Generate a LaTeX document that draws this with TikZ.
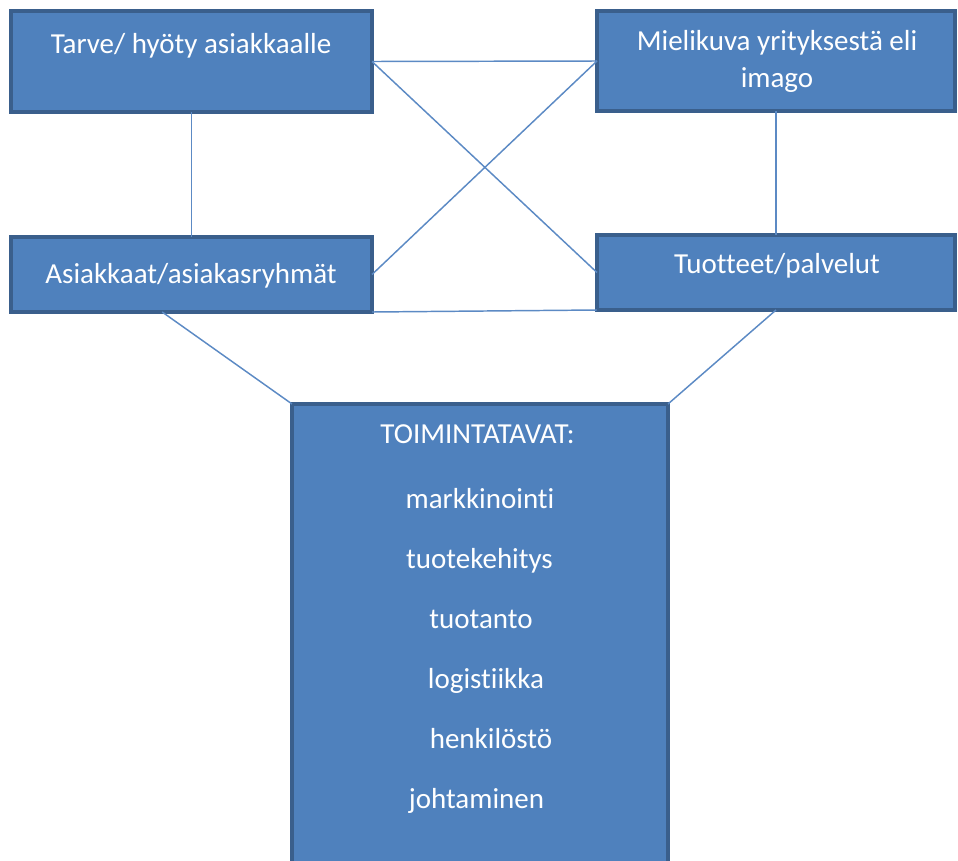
\documentclass[tikz,border=0pt]{standalone}
\usepackage{fontspec}
\setmainfont[Ligatures=NoCommon]{Carlito}
\definecolor{clFill}{HTML}{4F81BD}
\definecolor{clEdge}{HTML}{3A5F8C}
\definecolor{clLink}{HTML}{5C8AC4}
\usetikzlibrary{calc}

\begin{document}
\begin{tikzpicture}[x=0.75pt,y=-0.75pt,
  box/.style={draw=clEdge,fill=clFill,line width=3pt,rectangle,inner sep=0pt,outer sep=0pt},
  txt/.style={text=white,font=\fontsize{21.75}{27.75}\selectfont,align=center,inner sep=0pt},
  link/.style={draw=clLink,line width=1.1pt}]
  \useasboundingbox (0,0) rectangle (958,861);
  \clip (0,0) rectangle (958,861);
  % boxes
  \node[box,minimum width=270.75pt,minimum height=75.75pt] (tarve) at (191.5,61.5){};
  \node[box,minimum width=268.5pt,minimum height=75pt] (miel) at (776,61){};
  \node[box,minimum width=270.75pt,minimum height=56.25pt] (asiak) at (191.5,274.5){};
  \node[box,minimum width=268.5pt,minimum height=56.25pt] (tuot) at (776,272.5){};
  \node[box,minimum width=282pt,minimum height=357pt] (toim) at (480,642){};
  % connectors
  \draw[link] (tarve.south) -- (asiak.north);
  \draw[link] (miel.south) -- (tuot.north);
  \draw[link] (tarve.east) -- (miel.west);
  \draw[link] (tarve.east) -- (tuot.west);
  \draw[link] (asiak.east) -- (miel.west);
  \draw[link] (asiak.south east) -- (tuot.south west);
  \draw[link] (asiak.232) -- (toim.north west);
  \draw[link] (tuot.south) -- (toim.north east);
  % texts
  \node[txt,anchor=base] (tarvetxt) at (191,53){Tarve/ hyöty asiakkaalle};
  \node[txt] (mieltxt) at (777,61.5){Mielikuva yrityksestä eli\\imago};
  \node[txt,anchor=base] (asiaktxt) at (191,283){Asiakkaat/asiakasryhmät};
  \node[txt,anchor=base] (tuottxt) at (777,273){Tuotteet/palvelut};
  \node[txt,anchor=base] (toimtxt) at (477.5,443){TOIMINTATAVAT:};
  \node[txt,anchor=base] (mark) at (480,508){markkinointi};
  \node[txt,anchor=base] (tkeh) at (479.5,568){tuotekehitys};
  \node[txt,anchor=base] (tuotanto) at (481,628){tuotanto};
  \node[txt,anchor=base] (logi) at (486,688){logistiikka};
  \node[txt,anchor=base] (henk) at (491,748){henkilöstö};
  \node[txt,anchor=base] (joht) at (476.5,808){johtaminen};
\end{tikzpicture}
\end{document}
